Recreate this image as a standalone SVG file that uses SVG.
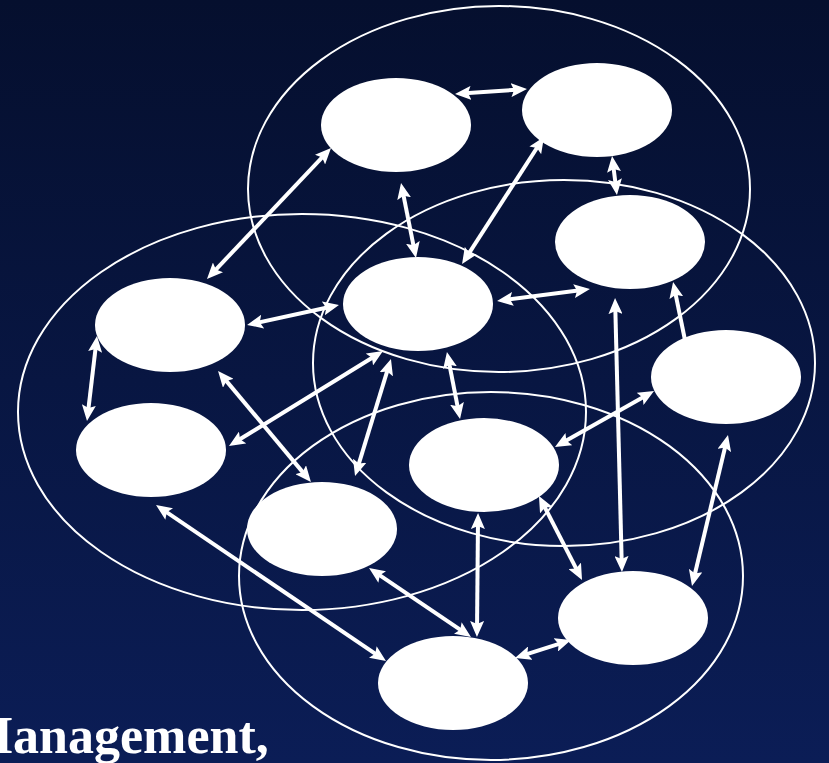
<svg xmlns="http://www.w3.org/2000/svg" width="829" height="763" viewBox="0 0 829 763">
  <defs>
    <linearGradient id="bg" x1="0" y1="0" x2="0" y2="1">
      <stop offset="0" stop-color="#050f2e"/>
      <stop offset="1" stop-color="#0b1d56"/>
    </linearGradient>
    <marker id="ah" markerUnits="userSpaceOnUse" markerWidth="16" markerHeight="14" viewBox="0 0 16 14" refX="10" refY="7" orient="auto-start-reverse">
      <path d="M0,0 L16,7 L0,14 L3,7 Z" fill="#ffffff"/>
    </marker>
    <style>
      .region { fill: none; stroke: #ffffff; stroke-width: 2; }
      .node { fill: #ffffff; }
      .conn line { stroke: #ffffff; stroke-width: 4; marker-start: url(#ah); marker-end: url(#ah); }
      .conn line.single { marker-start: none; }
      .caption { font-family: "Liberation Serif", "Times New Roman", serif; font-weight: bold; font-size: 52px; fill: #ffffff; }
    </style>
  </defs>

  <rect x="0" y="0" width="829" height="763" fill="url(#bg)"/>

  <g id="regions">
    <ellipse class="region" cx="499" cy="189" rx="251" ry="183"/>
    <ellipse class="region" cx="564" cy="363" rx="251" ry="183"/>
    <ellipse class="region" cx="302" cy="412" rx="284" ry="198"/>
    <ellipse class="region" cx="491" cy="576" rx="252" ry="184"/>
  </g>

  <g id="connectors" class="conn">
    <line x1="461.0" y1="93.6" x2="521.0" y2="89.4"/>
    <line x1="326.9" y1="152.4" x2="211.1" y2="274.6"/>
    <line x1="402.2" y1="188.9" x2="414.8" y2="252.1"/>
    <line x1="612.8" y1="162.0" x2="616.2" y2="189.0"/>
    <line x1="540.7" y1="142.0" x2="465.3" y2="259.0"/>
    <line x1="503.0" y1="300.2" x2="584.0" y2="289.8"/>
    <line x1="333.1" y1="306.3" x2="252.9" y2="323.7"/>
    <line x1="96.3" y1="342.0" x2="87.7" y2="415.0"/>
    <line x1="377.9" y1="354.2" x2="234.1" y2="442.8"/>
    <line x1="221.9" y1="375.6" x2="307.1" y2="477.4"/>
    <line x1="389.2" y1="364.7" x2="356.8" y2="470.3"/>
    <line x1="448.1" y1="357.9" x2="458.9" y2="413.1"/>
    <line x1="161.0" y1="508.4" x2="381.0" y2="657.6"/>
    <line x1="374.0" y1="571.4" x2="466.0" y2="633.6"/>
    <line x1="478" y1="519" x2="477" y2="631"/>
    <line x1="520.7" y1="656.2" x2="565.3" y2="641.8"/>
    <line x1="541.7" y1="501.3" x2="579.3" y2="574.7"/>
    <line x1="615.2" y1="304" x2="621.8" y2="566"/>
    <line class="single" x1="686" y1="345" x2="674.3" y2="287.9"/>
    <line x1="560.2" y1="444.0" x2="648.8" y2="394.0"/>
    <line x1="726.6" y1="440.8" x2="693.4" y2="580.2"/>
  </g>

  <g id="node-a"><ellipse class="node" cx="396" cy="125" rx="75" ry="47"/></g>
  <g id="node-b"><ellipse class="node" cx="597" cy="110" rx="75" ry="47"/></g>
  <g id="node-c"><ellipse class="node" cx="630" cy="242" rx="75" ry="47"/></g>
  <g id="node-d"><ellipse class="node" cx="418" cy="304" rx="75" ry="47"/></g>
  <g id="node-e"><ellipse class="node" cx="170" cy="325" rx="75" ry="47"/></g>
  <g id="node-f"><ellipse class="node" cx="726" cy="377" rx="75" ry="47"/></g>
  <g id="node-g"><ellipse class="node" cx="151" cy="450" rx="75" ry="47"/></g>
  <g id="node-h"><ellipse class="node" cx="484" cy="465" rx="75" ry="47"/></g>
  <g id="node-i"><ellipse class="node" cx="322" cy="529" rx="75" ry="47"/></g>
  <g id="node-j"><ellipse class="node" cx="633" cy="618" rx="75" ry="47"/></g>
  <g id="node-k"><ellipse class="node" cx="453" cy="683" rx="75" ry="47"/></g>

  <text class="caption" x="-36" y="753">Management,</text>
</svg>
